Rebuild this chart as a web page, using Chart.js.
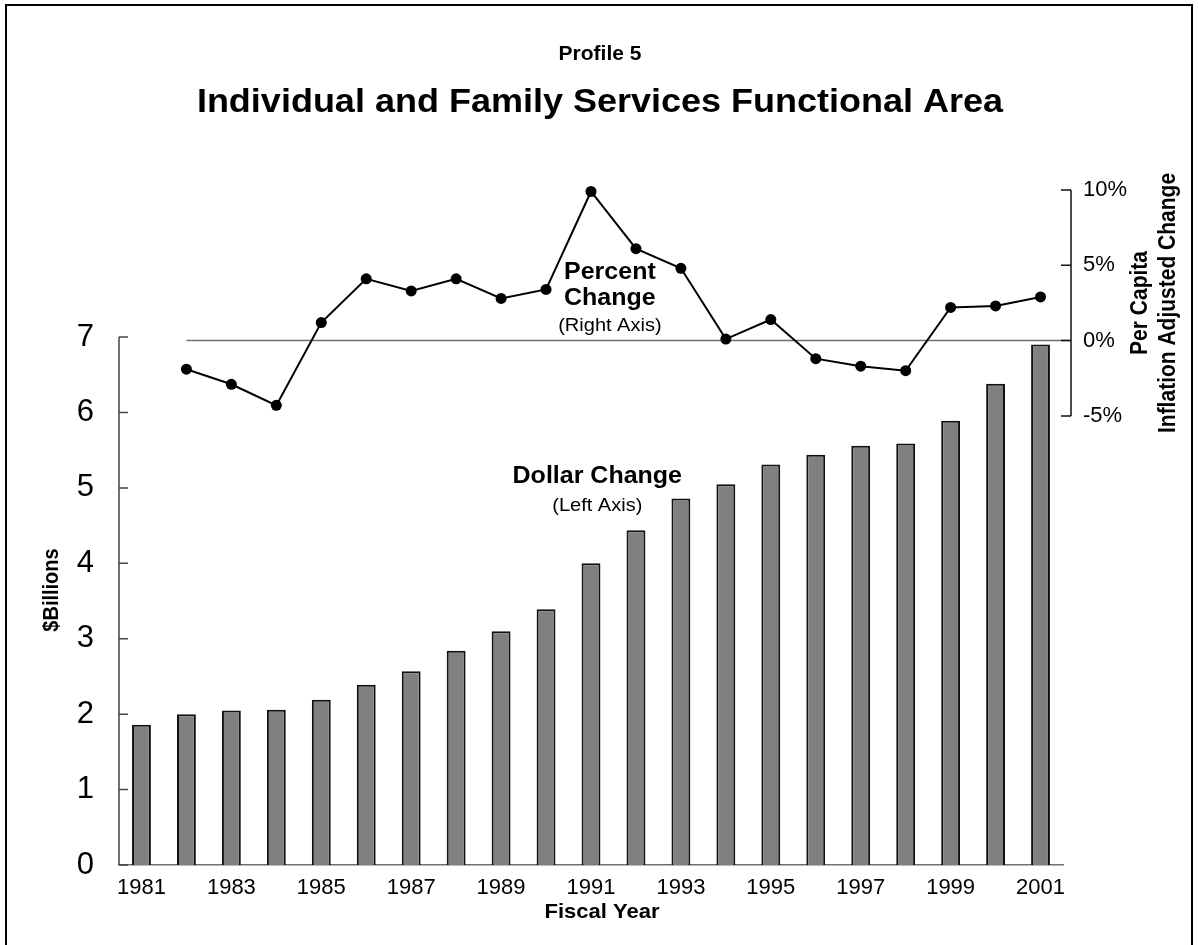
<!DOCTYPE html>
<html>
<head>
<meta charset="utf-8">
<title>Profile 5</title>
<script src="https://cdn.jsdelivr.net/npm/chart.js@4.4.0/dist/chart.umd.min.js"></script>
<style>
  html, body { margin: 0; padding: 0; background: #fff; overflow: hidden; }
  #frame { position: absolute; left: 5px; top: 4px; width: 1184px; height: 1000px; border: 2px solid #000; }
  #wrap { position: absolute; left: 0; top: 0; width: 1198px; height: 945px; }
</style>
</head>
<body>
<div id="frame"></div>
<div id="wrap"><canvas id="profileChart" width="1198" height="945"></canvas></div>
<script>
"use strict";

// --- data ---
const years = ["1981", "1982", "1983", "1984", "1985", "1986", "1987", "1988", "1989", "1990",
               "1991", "1992", "1993", "1994", "1995", "1996", "1997", "1998", "1999", "2000", "2001"];
// $ billions (left axis)
const dollarBillions = [1.86, 2.00, 2.05, 2.06, 2.19, 2.39, 2.57, 2.84, 3.10, 3.39,
                        4.00, 4.44, 4.86, 5.05, 5.31, 5.44, 5.56, 5.59, 5.89, 6.38, 6.90];
// per capita inflation adjusted change, % (right axis)
const percentChange = [null, -1.9, -2.9, -4.3, 1.2, 4.1, 3.3, 4.1, 2.8, 3.4,
                       9.9, 6.1, 4.8, 0.1, 1.4, -1.2, -1.7, -2.0, 2.2, 2.3, 2.9];
const leftTicks = [0, 1, 2, 3, 4, 5, 6, 7];
const rightTicks = [-5, 0, 5, 10];

const FONT = '"Liberation Sans", Arial, sans-serif';
const SQUISH = 0.93; // original lettering is a touch wider than tall

function drawText(ctx, text, x, y, font, align) {
    ctx.save();
    ctx.translate(x, y);
    ctx.scale(1, SQUISH);
    ctx.font = font;
    ctx.fillStyle = '#000';
    ctx.textAlign = align || 'center';
    ctx.textBaseline = 'middle';
    ctx.fillText(text, 0, 0);
    ctx.restore();
}

function drawRotated(ctx, text, x, y, font) {
    ctx.save();
    ctx.translate(x, y);
    ctx.scale(1.1, 1);
    ctx.rotate(-Math.PI / 2);
    ctx.font = font;
    ctx.fillStyle = '#000';
    ctx.textAlign = 'center';
    ctx.textBaseline = 'middle';
    ctx.fillText(text, 0, 0);
    ctx.restore();
}

// axis lines, short inward ticks, the 0% line and all the free text
const profileOverlay = {
    id: 'profileOverlay',
    beforeDatasetsDraw(chart) {
        const { ctx, chartArea } = chart;
        const x = chart.scales.x, y = chart.scales.y, y2 = chart.scales.y2;
        const leftX = chartArea.left;
        const rightX = chartArea.right + 8;

        ctx.save();
        // 0% reference line
        ctx.strokeStyle = '#707070';
        ctx.lineWidth = 1.5;
        ctx.beginPath();
        ctx.moveTo(x.getPixelForValue(1), y2.getPixelForValue(0));
        ctx.lineTo(rightX, y2.getPixelForValue(0));
        ctx.stroke();

        // left axis
        ctx.strokeStyle = '#444';
        ctx.lineWidth = 1.5;
        ctx.beginPath();
        ctx.moveTo(leftX, y.getPixelForValue(leftTicks[leftTicks.length - 1]));
        ctx.lineTo(leftX, y.getPixelForValue(0));
        leftTicks.forEach(v => {
            const py = y.getPixelForValue(v);
            ctx.moveTo(leftX, py);
            ctx.lineTo(leftX + 9, py);
        });
        ctx.stroke();

        // right axis
        ctx.strokeStyle = '#111';
        ctx.beginPath();
        ctx.moveTo(rightX, y2.getPixelForValue(10));
        ctx.lineTo(rightX, y2.getPixelForValue(-5));
        rightTicks.forEach(v => {
            const py = y2.getPixelForValue(v);
            ctx.moveTo(rightX, py);
            ctx.lineTo(rightX - 10, py);
        });
        ctx.stroke();
        ctx.restore();
    },
    afterDraw(chart) {
        const { ctx } = chart;
        const x = chart.scales.x, y = chart.scales.y, y2 = chart.scales.y2;

        drawText(ctx, 'Profile 5', 600, 55, 'bold 21px ' + FONT);
        drawText(ctx, 'Individual and Family Services Functional Area', 600, 103, 'bold 36px ' + FONT);

        // series notes
        drawText(ctx, 'Percent', x.getPixelForValue(10.42), y2.getPixelForValue(4.52), 'bold 25px ' + FONT);
        drawText(ctx, 'Change', x.getPixelForValue(10.42), y2.getPixelForValue(2.76), 'bold 25px ' + FONT);
        drawText(ctx, '(Right Axis)', x.getPixelForValue(10.42), y2.getPixelForValue(0.97), '20px ' + FONT);
        drawText(ctx, 'Dollar Change', x.getPixelForValue(10.14), y.getPixelForValue(5.15), 'bold 25px ' + FONT);
        drawText(ctx, '(Left Axis)', x.getPixelForValue(10.14), y.getPixelForValue(4.76), '20px ' + FONT);

        // axis titles
        drawText(ctx, 'Fiscal Year', 602, 912, 'bold 22px ' + FONT);
        drawRotated(ctx, '$Billions', 52, 590, 'bold 20px ' + FONT);
        const midRight = (y2.getPixelForValue(10) + y2.getPixelForValue(-5)) / 2;
        drawRotated(ctx, 'Per Capita', 1141, midRight, 'bold 21px ' + FONT);
        drawRotated(ctx, 'Inflation Adjusted Change', 1169, midRight, 'bold 21px ' + FONT);
    }
};

const ctx = document.getElementById('profileChart').getContext('2d');

new Chart(ctx, {
    type: 'bar',
    data: {
        labels: years,
        datasets: [
            {
                type: 'line',
                label: 'Percent Change',
                data: percentChange,
                yAxisID: 'y2',
                borderColor: '#000',
                borderWidth: 2,
                pointRadius: 5.5,
                pointBackgroundColor: '#000',
                pointBorderColor: '#000',
                pointBorderWidth: 0,
                tension: 0,
                clip: false,
                order: 1
            },
            {
                type: 'bar',
                label: 'Dollar Change',
                data: dollarBillions,
                yAxisID: 'y',
                backgroundColor: '#808080',
                borderColor: '#111',
                borderWidth: 2,
                barPercentage: 0.42,
                categoryPercentage: 1,
                order: 2
            }
        ]
    },
    options: {
        responsive: false,
        animation: false,
        events: [],
        layout: { padding: { top: 190, left: 0, right: 0, bottom: 0 } },
        plugins: {
            legend: { display: false },
            tooltip: { enabled: false },
            title: { display: false }
        },
        scales: {
            x: {
                afterFit: s => { s.height = 80; },
                grid: { display: false, drawTicks: false },
                border: { display: true, color: '#707070', width: 1.5 },
                ticks: {
                    autoSkip: false,
                    maxRotation: 0,
                    padding: 10,
                    color: '#000',
                    font: { family: FONT, size: 22 },
                    callback: (v, i) => (i % 2 === 0 ? years[i] : '')
                }
            },
            y: {
                position: 'left',
                min: 0,
                max: 8.95,
                afterBuildTicks: s => { s.ticks = leftTicks.map(v => ({ value: v })); },
                afterFit: s => { s.width = 119; },
                grid: { display: false, drawTicks: false },
                border: { display: false },
                ticks: { padding: 25, color: '#000', font: { family: FONT, size: 31 } }
            },
            y2: {
                position: 'right',
                min: -34.82,
                max: 10,
                afterBuildTicks: s => { s.ticks = rightTicks.map(v => ({ value: v })); },
                afterFit: s => { s.width = 135; },
                grid: { display: false, drawTicks: false },
                border: { display: false },
                ticks: {
                    padding: 20,
                    color: '#000',
                    font: { family: FONT, size: 22 },
                    callback: v => v + '%'
                }
            }
        }
    },
    plugins: [profileOverlay]
});
</script>
</body>
</html>
